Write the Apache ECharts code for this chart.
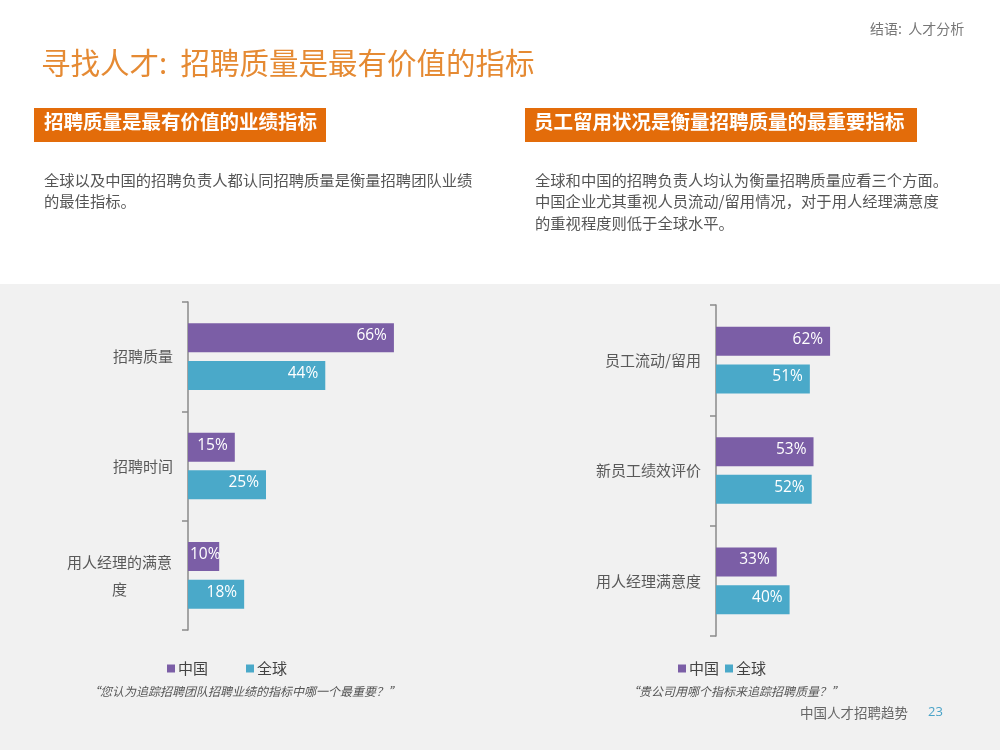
<!DOCTYPE html>
<html>
<head>
	<meta charset="UTF-8">
	<title>寻找人才</title>
	<script src="https://cdn.jsdelivr.net/npm/echarts@6/dist/echarts.min.js"></script>
	<style>
		html, body { margin: 0; padding: 0; background: #fff; }
		#main { width: 1000px; height: 750px; }
	</style>
</head>
<body>
<div id="main"></div>
<script>
	// 左图：招聘团队业绩指标
	var leftCategories = ['招聘质量', '招聘时间', '用人经理的满意度'];
	var leftChina = [66, 15, 10];
	var leftGlobal = [44, 25, 18];

	// 右图：衡量招聘质量的指标
	var rightCategories = ['员工流动/留用', '新员工绩效评价', '用人经理满意度'];
	var rightChina = [62, 53, 33];
	var rightGlobal = [51, 52, 40];

	var seriesNames = ['中国', '全球'];

	var purple = '#7b5ea6';
	var teal = '#4aa9c9';
	var cjk = '"Noto Sans CJK SC", "Noto Sans", sans-serif';

	function catAxis(idx, cats) {
		return {
			type: 'category',
			gridIndex: idx,
			inverse: true,
			data: cats,
			axisLine: { lineStyle: { color: '#8a8a8a', width: 1.5 } },
			axisTick: { show: true, length: 6, lineStyle: { color: '#8a8a8a', width: 1.5 } },
			axisLabel: {
				margin: 15,
				color: '#595959',
				fontSize: 15,
				fontFamily: cjk,
				formatter: function (v) {
					// 过长的标签折成两行，居中
					if (v.length > 7) {
						return '{w|' + v.slice(0, 7) + '}\n{w|' + v.slice(7) + '}';
					}
					return v;
				},
				rich: {
					w: { width: 107, align: 'center', lineHeight: 27, fontSize: 15, color: '#595959', fontFamily: cjk }
				}
			}
		};
	}

	function valAxis(idx) {
		return {
			type: 'value', gridIndex: idx, min: 0, max: 100, show: false
		};
	}

	function barSeries(name, idx, data, color) {
		// 条太短放不下数字时，从左边开始写（超出条也不要紧）
		var items = data.map(function (v) {
			if (v < 12) {
				return { value: v, label: { position: 'insideLeft', distance: 2 } };
			}
			return v;
		});
		return {
			name: name,
			type: 'bar',
			xAxisIndex: idx,
			yAxisIndex: idx,
			data: items,
			barWidth: 29,
			barGap: '30%',
			itemStyle: { color: color },
			label: {
				show: true,
				position: 'insideRight',
				distance: 7,
				offset: [0, -2],
				color: '#fff',
				fontSize: 15.5,
				fontFamily: '"Open Sans", sans-serif',
				formatter: '{c}%'
			}
		};
	}

	var myChart = echarts.init(document.getElementById('main'));
	var option = {
		backgroundColor: '#fff',
		animation: false,
		grid: [
			{ left: 188, top: 302, width: 312, height: 328 },
			{ left: 716, top: 305, width: 184, height: 331 }
		],
		xAxis: [valAxis(0), valAxis(1)],
		yAxis: [catAxis(0, leftCategories), catAxis(1, rightCategories)],
		legend: [
			{
				data: seriesNames, left: 162, top: 656, icon: 'rect',
				itemWidth: 8, itemHeight: 8, itemGap: 38,
				textStyle: { fontSize: 15, color: '#444', fontFamily: cjk, padding: [0, 0, 0, -2] }
			},
			{
				data: seriesNames, left: 673, top: 656, icon: 'rect',
				itemWidth: 8, itemHeight: 8, itemGap: 6,
				textStyle: { fontSize: 15, color: '#444', fontFamily: cjk, padding: [0, 0, 0, -2] }
			}
		],
		graphic: [
			{ type: 'rect', z: -10, shape: { x: 0, y: 284, width: 1000, height: 466 }, style: { fill: '#f1f1f1' } },
			{ type: 'text', left: 870, top: 22, style: { text: '结语:  人才分析', fontSize: 14, fill: '#777', fontFamily: cjk } },
			{ type: 'text', left: 41, top: 48, style: { text: '寻找人才:  招聘质量是最有价值的指标', fontSize: 29.5, fill: '#e58a33', fontFamily: cjk } },
			{ type: 'rect', shape: { x: 34, y: 108, width: 292, height: 34 }, style: { fill: '#e36c0a' } },
			{ type: 'text', left: 44, top: 112, style: { text: '招聘质量是最有价值的业绩指标', fontSize: 19.5, fontWeight: 'bold', fill: '#fff', fontFamily: cjk } },
			{ type: 'rect', shape: { x: 525, y: 108, width: 392, height: 34 }, style: { fill: '#e36c0a' } },
			{ type: 'text', left: 534, top: 112, style: { text: '员工留用状况是衡量招聘质量的最重要指标', fontSize: 19.5, fontWeight: 'bold', fill: '#fff', fontFamily: cjk } },
			{ type: 'text', left: 44, top: 169, style: { text: '全球以及中国的招聘负责人都认同招聘质量是衡量招聘团队业绩\n的最佳指标。', fontSize: 15.3, lineHeight: 21.5, fill: '#555', fontFamily: cjk } },
			{ type: 'text', left: 535, top: 169, style: { text: '全球和中国的招聘负责人均认为衡量招聘质量应看三个方面。\n中国企业尤其重视人员流动/留用情况，对于用人经理满意度\n的重视程度则低于全球水平。', fontSize: 15.3, lineHeight: 21.5, fill: '#555', fontFamily: cjk } },
			{ type: 'text', left: 88, top: 685, style: { text: '“您认为追踪招聘团队招聘业绩的指标中哪一个最重要？”', fontSize: 12, fontStyle: 'italic', fill: '#555', fontFamily: cjk } },
			{ type: 'text', left: 627, top: 685, style: { text: '“贵公司用哪个指标来追踪招聘质量？”', fontSize: 12, fontStyle: 'italic', fill: '#555', fontFamily: cjk } },
			{ type: 'text', left: 800, top: 706, style: { text: '中国人才招聘趋势', fontSize: 13.5, fill: '#666', fontFamily: cjk } },
			{ type: 'text', left: 928, top: 706, style: { text: '23', fontSize: 13, fill: '#4aa3c8', fontFamily: '"Open Sans", sans-serif' } }
		],
		series: [
			barSeries(seriesNames[0], 0, leftChina, purple),
			barSeries(seriesNames[1], 0, leftGlobal, teal),
			barSeries(seriesNames[0], 1, rightChina, purple),
			barSeries(seriesNames[1], 1, rightGlobal, teal)
		]
	};
	myChart.setOption(option);
</script>
</body>
</html>
